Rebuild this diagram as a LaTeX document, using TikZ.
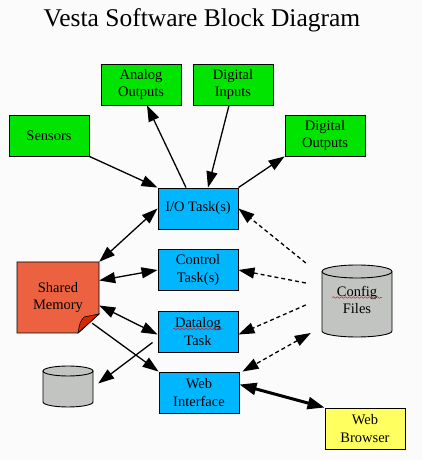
\documentclass[tikz,border=0pt]{standalone}
\usepackage{fontspec}
\setmainfont{Liberation Serif}
\usetikzlibrary{arrows.meta,decorations.pathmorphing}

\definecolor{boxgreen}{RGB}{0,228,0}
\definecolor{taskblue}{RGB}{0,183,255}
\definecolor{memred}{RGB}{236,98,64}
\definecolor{foldred}{RGB}{214,40,0}
\definecolor{webyellow}{RGB}{255,255,96}
\definecolor{cylgray}{RGB}{194,196,194}
\definecolor{bggray}{RGB}{250,251,250}

\tikzset{
    blockbox/.style={draw, line width=0.9pt, minimum width=80pt, minimum height=41pt,
        inner sep=0pt, align=center, font=\fontsize{14.5}{17.5}\selectfont},
    iobox/.style={blockbox, fill=boxgreen},
    taskbox/.style={blockbox, fill=taskblue},
    link/.style={line width=1.3pt, -{Triangle[length=16pt,width=11pt]}},
    duallink/.style={line width=1.3pt, {Triangle[length=16pt,width=11pt]}-{Triangle[length=16pt,width=11pt]}},
    cfglink/.style={link, dash pattern=on 4pt off 3pt},
    spellmark/.style={draw=red, line width=0.5pt, decorate,
        decoration={snake, amplitude=0.8pt, segment length=4pt}}
}

\begin{document}
\begin{tikzpicture}[x=1pt,y=1pt]
    % Background and frame
    \fill[bggray] (0,0) rectangle (422,460);
    \useasboundingbox (0,0) rectangle (422,460);

    % Title
    \node[font=\fontsize{25.5}{30}\selectfont] (title) at (202,440) {Vesta Software Block Diagram};

    % Input / output blocks
    \node[iobox] (anaout) at (141,375.5) {Analog\\Outputs};
    \node[iobox] (digin) at (233,375.5) {Digital\\Inputs};
    \node[iobox] (sensors) at (49,324.5) {Sensors};
    \node[iobox] (digout) at (325,324.5) {Digital\\Outputs};

    % Task blocks
    \node[taskbox] (iotask) at (198,251.5) {I/O Task(s)};
    \node[taskbox] (ctrltask) at (198,190) {Control\\Task(s)};
    \node[taskbox] (dlogtask) at (198,128.5) {Datalog\\Task};
    \node[taskbox] (webif) at (199,67.5) {Web\\Interface};
    \node[blockbox, fill=webyellow] (browser) at (365,31.5) {Web\\Browser};

    % Shared memory sheet with folded corner
    \filldraw[fill=memred, line width=0.9pt] (17,198) -- (99,198) -- (99,146) -- (78,127) -- (17,127) -- cycle;
    \filldraw[fill=foldred, line width=0.6pt] (99,146) -- (84,143) .. controls (80,138) .. (78,127) -- cycle;
    \node[minimum width=82pt, minimum height=71pt, inner sep=0pt, align=center,
        font=\fontsize{14.5}{17.5}\selectfont] (shmem) at (58,162.5) {Shared\\Memory};

    % Config files cylinder
    \filldraw[fill=cylgray, line width=0.9pt] (322,188.5) -- (322,129)
        arc[start angle=180, end angle=360, x radius=35, y radius=6]
        -- (392,188.5) arc[start angle=0, end angle=180, x radius=35, y radius=6.5] -- cycle;
    \draw[line width=0.9pt] (322,188.5) arc[start angle=180, end angle=360, x radius=35, y radius=6.5];
    \node[minimum width=70pt, minimum height=72pt, inner sep=0pt, align=center,
        font=\fontsize{14.5}{17.5}\selectfont] (cfgfiles) at (357,160) {Config\\Files};
    \draw[spellmark] (332,162.5) -- (382,162.5);
    \draw[spellmark] (173,131) -- (223,131);

    % Datalog storage cylinder
    \filldraw[fill=cylgray, line width=0.9pt] (43,89) -- (43,58)
        arc[start angle=180, end angle=360, x radius=25, y radius=5]
        -- (93,89) arc[start angle=0, end angle=180, x radius=25, y radius=5] -- cycle;
    \draw[line width=0.9pt] (43,89) arc[start angle=180, end angle=360, x radius=25, y radius=5];
    \node[minimum width=50pt, minimum height=41pt] (logstore) at (68,73.5) {};

    % Data flow arrows
    \draw[link] (sensors.south east) -- (iotask.north west);
    \draw[link] ([xshift=-12pt]iotask.north) -- ([xshift=6pt]anaout.south);
    \draw[link] ([xshift=-4pt]digin.south) -- ([xshift=10pt]iotask.north);
    \draw[link] (iotask.north east) -- (digout.south west);
    \draw[duallink] (iotask.west) -- (shmem.north east);
    \draw[duallink] (ctrltask.west) -- ([yshift=17pt]shmem.east);
    \draw[duallink] ([yshift=-8pt]shmem.east) -- ([yshift=-3pt]dlogtask.west);
    \draw[link] ([shift={(-7pt,10pt)}]shmem.south east) -- (webif.north west);
    \draw[link] ([shift={(-5pt,-11pt)}]dlogtask.west) -- ([shift={(5pt,3pt)}]logstore.east);
    \draw[line width=3pt, {Triangle[length=17pt,width=12pt]}-{Triangle[length=17pt,width=12pt]}]
        ([yshift=8pt]webif.east) -- (browser.north west);

    % Configuration arrows
    \draw[cfglink] ([shift={(-16pt,37pt)}]cfgfiles.west) -- (iotask.east);
    \draw[cfglink] ([shift={(-16pt,17pt)}]cfgfiles.west) -- (ctrltask.east);
    \draw[cfglink] ([shift={(-16pt,-5pt)}]cfgfiles.west) -- ([yshift=-3pt]dlogtask.east);
    \draw[cfglink, {Triangle[length=16pt,width=11pt]}-{Triangle[length=16pt,width=11pt]}]
        ([shift={(-11pt,-33pt)}]cfgfiles.west) -- ([xshift=3pt]webif.north east);
\end{tikzpicture}
\end{document}
